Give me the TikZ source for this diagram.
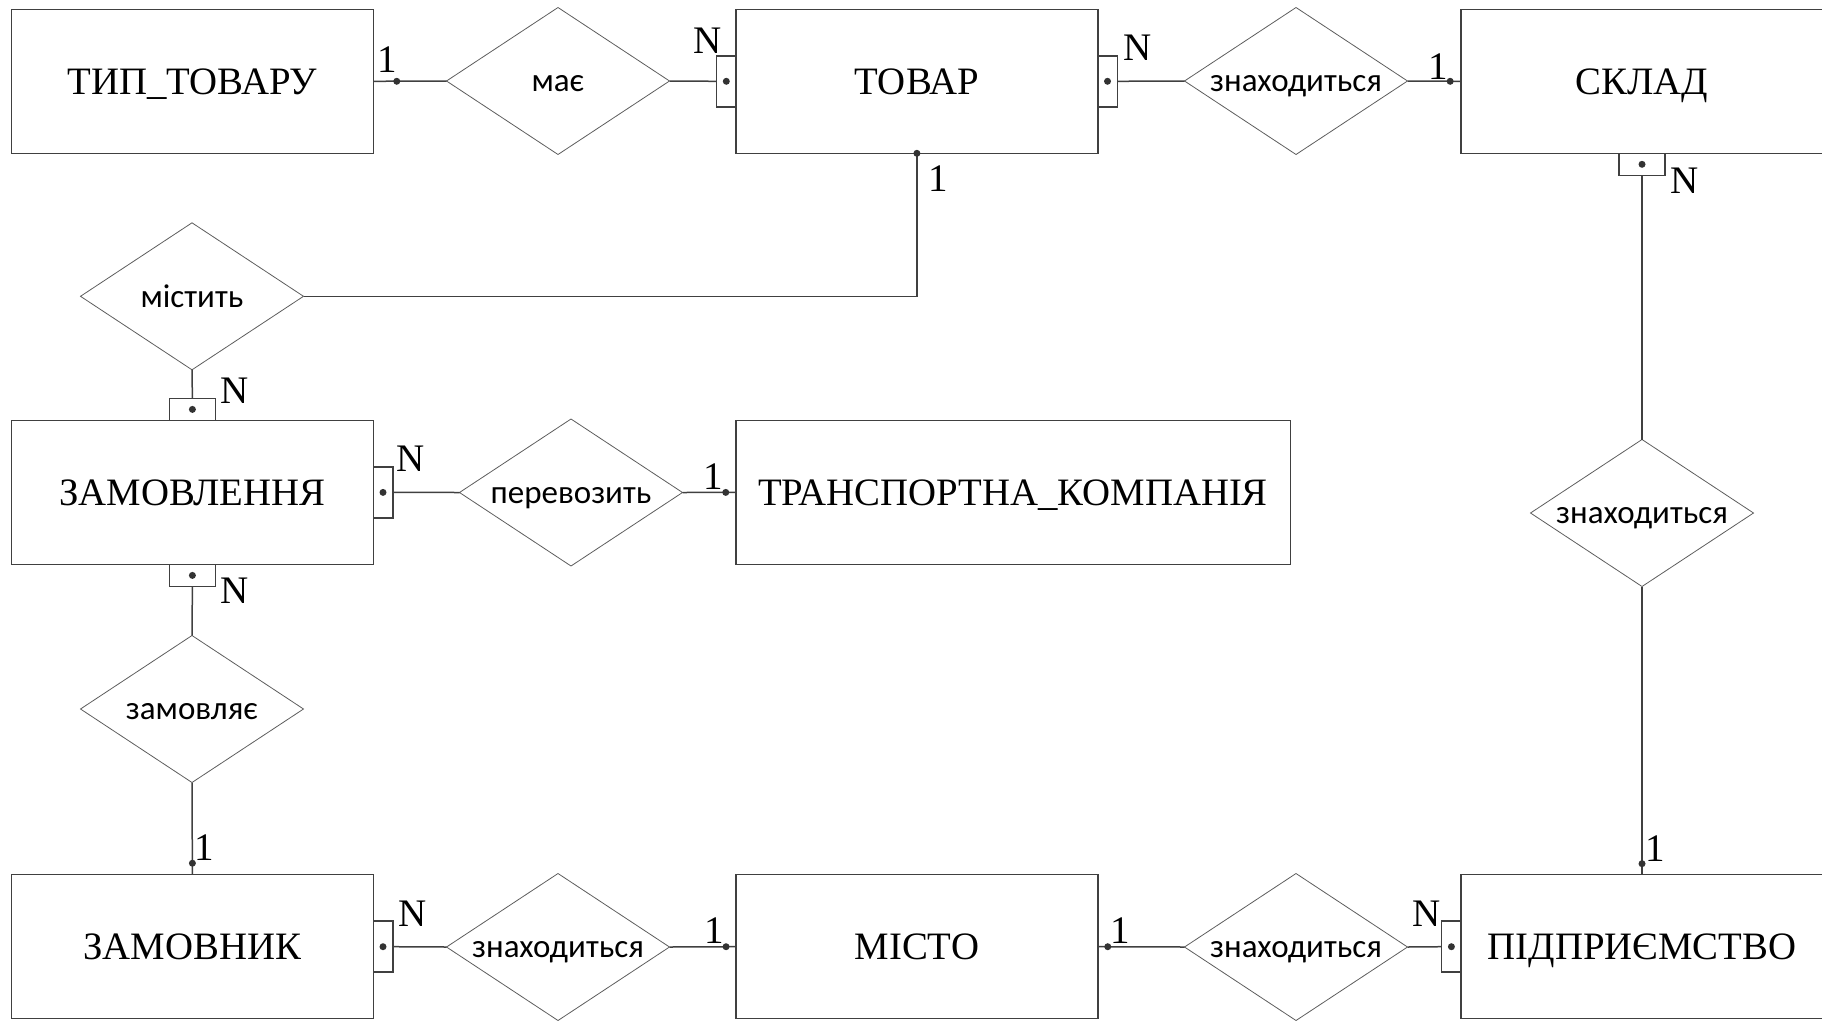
\documentclass[tikz,border=0pt]{standalone}
\usepackage{fontspec}
\setmainfont{Liberation Serif}
\newfontfamily\relfont{Carlito}
\usepackage{tikz}
\usetikzlibrary{positioning, calc, shapes.geometric}
\definecolor{erline}{HTML}{404040}
\tikzstyle{entity}=[draw=erline, line width=1.5pt, outer sep=0pt, inner sep=0pt, minimum width=361.7, minimum height=144, text height=25.7pt, text depth=0pt, font=\fontsize{38.8}{40}\selectfont]
\tikzstyle{relation}=[diamond, draw=erline!85, line width=0.8pt, outer sep=0pt, inner sep=0pt, shape aspect=1.5, minimum width=223, minimum height=147, text height=21.4pt, text depth=0pt, font=\relfont\fontsize{33}{35}\selectfont]
\tikzstyle{nside}=[draw=erline, line width=1.5pt, outer sep=0pt, inner sep=0pt, minimum width=19.5, minimum height=51]
\tikzstyle{nvert}=[draw=erline, line width=1.5pt, outer sep=0pt, inner sep=0pt, minimum width=46, minimum height=22]
\tikzstyle{card}=[inner sep=0pt, outer sep=0pt, font=\fontsize{39}{40}\selectfont]
\tikzstyle{link}=[draw=erline, line width=1.5pt]

\begin{document}
\begin{tikzpicture}[x=1pt, y=-1pt]
      \useasboundingbox (0,0) rectangle (1822,1020);

      % entities
      \node[entity] (tipTovaru) at (192.4, 81.3) {ТИП\_ТОВАРУ};
      \node[entity] (tovar) at (916.9, 81.3) {ТОВАР};
      \node[entity] (sklad) at (1642, 81.3) {СКЛАД};
      \node[entity] (zamovlennia) at (192.4, 492.4) {ЗАМОВЛЕННЯ};
      \node[entity, minimum width=554.5] (transport) at (1013, 492.4) {ТРАНСПОРТНА\_КОМПАНІЯ};
      \node[entity] (zamovnyk) at (192.4, 946.7) {ЗАМОВНИК};
      \node[entity] (misto) at (916.9, 946.7) {МІСТО};
      \node[entity] (pidpr) at (1642, 946.7) {ПІДПРИЄМСТВО};

      % relations
      \node[relation] (mae) at (558, 81) {має};
      \node[relation] (znakhSklad) at (1296, 81) {знаходиться};
      \node[relation] (mistyt) at (192, 296.3) {містить};
      \node[relation] (perevozyt) at (571, 492.5) {перевозить};
      \node[relation] (znakhPidpr) at (1642, 513) {знаходиться};
      \node[relation] (zamovliaie) at (192, 709) {замовляє};
      \node[relation] (znakhMisto) at (558, 947) {знаходиться};
      \node[relation] (znakhPM) at (1296, 947) {знаходиться};

      % N sides
      \node[nside, anchor=east] (tovarL) at (tovar.west) {};
      \node[nside, anchor=west] (tovarR) at (tovar.east) {};
      \node[nvert, anchor=north] (skladB) at (sklad.south) {};
      \node[nvert, anchor=south] (zamT) at (zamovlennia.north) {};
      \node[nside, anchor=west] (zamR) at (zamovlennia.east) {};
      \node[nvert, anchor=north] (zamB) at (zamovlennia.south) {};
      \node[nside, anchor=west] (zamnR) at (zamovnyk.east) {};
      \node[nside, anchor=east] (pidprL) at (pidpr.west) {};

      % 1 sides
      \coordinate (tipDot) at ($(tipTovaru.east)+(23.5,0)$);
      \coordinate (skladDot) at ($(sklad.west)+(-11,0)$);
      \coordinate (tovarDot) at (tovar.south);
      \coordinate (transpDot) at ($(transport.west)+(-10,0)$);
      \coordinate (zamnDot) at ($(zamovnyk.north)+(0,-11.5)$);
      \coordinate (mistoDotL) at ($(misto.west)+(-10,0)$);
      \coordinate (mistoDotR) at ($(misto.east)+(10,0)$);
      \coordinate (pidprDot) at ($(pidpr.north)+(0,-11)$);

      \draw[link] (tipTovaru.east) -- (mae.west);
      \draw[link] (mae.east) -- (tovarL.west);
      \draw[link] (tovarR.east) -- (znakhSklad.west);
      \draw[link] (znakhSklad.east) -- (sklad.west);
      \draw[link] (tovar.south) |- (mistyt.east);
      \draw[link] (mistyt.south) -- (zamT.north);
      \draw[link] (zamR.east) -- (perevozyt.west);
      \draw[link] (perevozyt.east) -- (transport.west);
      \draw[link] (zamB.south) -- (zamovliaie.north);
      \draw[link] (zamovliaie.south) -- (zamovnyk.north);
      \draw[link] (zamnR.east) -- (znakhMisto.west);
      \draw[link] (znakhMisto.east) -- (misto.west);
      \draw[link] (misto.east) -- (znakhPM.west);
      \draw[link] (znakhPM.east) -- (pidprL.west);
      \draw[link] (skladB.south) -- (znakhPidpr.north);
      \draw[link] (znakhPidpr.south) -- (pidpr.north);

      \foreach \c in {tovarL, tovarR, skladB, zamT, zamR, zamB, zamnR, pidprL}{
        \fill[erline!80!black] (\c) circle (3.5);
      }
      \foreach \c in {tipDot, skladDot, tovarDot, transpDot, zamnDot, mistoDotL, mistoDotR, pidprDot}{
        \fill[erline!80!black] (\c) circle (3.5);
      }

      % cardinalities
      \node[card, anchor=south east] (cTip) at ($(tipDot)+(0,-9.3)$) {1};
      \node[card, anchor=south east] (cSklad) at ($(skladDot)+(-1.7,-2)$) {1};
      \node[card, anchor=south west] (cTovar) at ($(tovarDot)+(11.5,37.7)$) {1};
      \node[card, anchor=south east] (cTransp) at ($(transpDot)+(-2.4,-2.5)$) {1};
      \node[card, anchor=south west] (cZamn) at ($(zamnDot)+(1.8,-2.6)$) {1};
      \node[card, anchor=south east] (cMistoL) at ($(mistoDotL)+(-1.7,-3.3)$) {1};
      \node[card, anchor=south west] (cMistoR) at ($(mistoDotR)+(2.5,-3.7)$) {1};
      \node[card, anchor=south west] (cPidpr) at ($(pidprDot)+(3.5,-2.3)$) {1};

      \node[card, anchor=south east] (nTovarL) at ($(tovarL.north west)+(5,-2.5)$) {N};
      \node[card, anchor=south west] (nTovarR) at ($(tovarR.north east)+(6,5)$) {N};
      \node[card, anchor=south west] (nSklad) at ($(skladB.south east)+(5,18)$) {N};
      \node[card, anchor=south west] (nZamT) at ($(zamT.north east)+(5,5)$) {N};
      \node[card, anchor=south west] (nZamR) at ($(zamR.north east)+(4,5)$) {N};
      \node[card, anchor=south west] (nZamB) at ($(zamB.south east)+(5,17)$) {N};
      \node[card, anchor=south west] (nZamn) at ($(zamnR.north east)+(6,5.7)$) {N};
      \node[card, anchor=south east] (nPidpr) at ($(pidprL.north west)+(-1,5)$) {N};
\end{tikzpicture}
\end{document}
